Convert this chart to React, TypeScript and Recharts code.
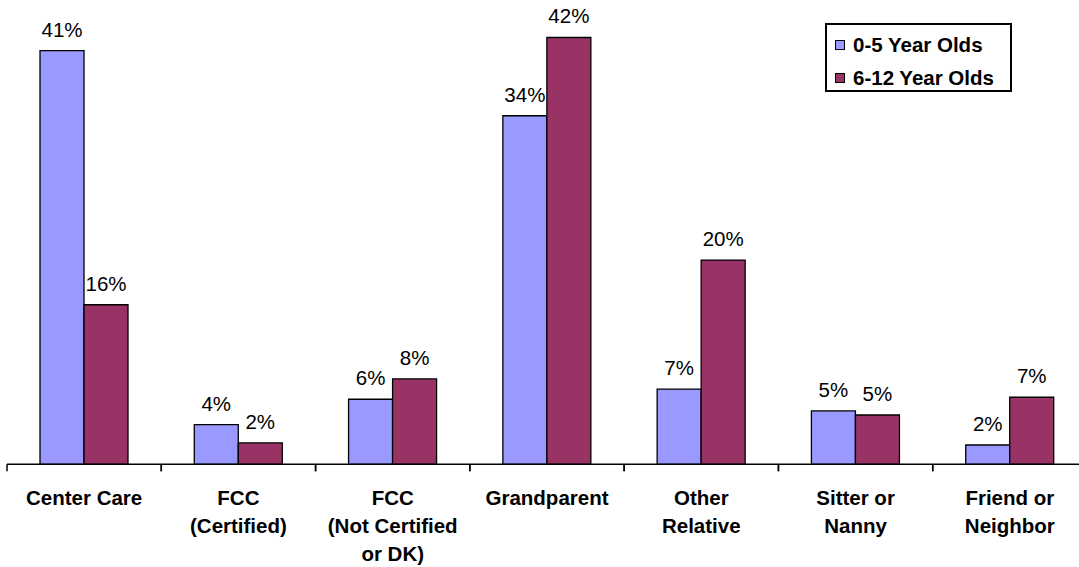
import React from "react";
import { BarChart, Bar, XAxis, YAxis, LabelList } from "recharts";

const categories = [
  "Center Care",
  "FCC (Certified)",
  "FCC (Not Certified or DK)",
  "Grandparent",
  "Other Relative",
  "Sitter or Nanny",
  "Friend or Neighbor",
];
const tickLines = [
  ["Center Care"],
  ["FCC", "(Certified)"],
  ["FCC", "(Not Certified", "or DK)"],
  ["Grandparent"],
  ["Other", "Relative"],
  ["Sitter or", "Nanny"],
  ["Friend or", "Neighbor"],
];
const ages0to5 = [40.7, 3.9, 6.4, 34.3, 7.4, 5.25, 1.9];
const ages6to12 = [15.7, 2.1, 8.4, 42.0, 20.1, 4.85, 6.6];
const seriesNames = ["0-5 Year Olds", "6-12 Year Olds"];
const colors = ["#9999FF", "#993366"];

const data = categories.map((c, i) => ({
  name: c,
  a: ages0to5[i],
  b: ages6to12[i],
}));

const FONT = "'Liberation Sans', Arial, Helvetica, sans-serif";

const CategoryTick = (props: any) => {
  const { x, y, payload, index } = props;
  const half = payload && payload.offset ? payload.offset : 77.15;
  const lines = tickLines[index] || [payload.value];
  return (
    <g>
      <line x1={x - half} x2={x - half} y1={y} y2={y + 7} stroke="#000" strokeWidth={1.5} />
      <line x1={x + half} x2={x + half} y1={y} y2={y + 7} stroke="#000" strokeWidth={1.5} />
      <text
        x={x}
        y={y + 41}
        textAnchor="middle"
        fontFamily={FONT}
        fontWeight="bold"
        fontSize={20.5}
        fill="#000"
      >
        {lines.map((l: string, i: number) => (
          <tspan key={i} x={x} dy={i === 0 ? 0 : 28}>
            {l}
          </tspan>
        ))}
      </text>
    </g>
  );
};

const LegendBox = () => (
  <div
    style={{
      position: "absolute",
      left: 825,
      top: 23,
      width: 183,
      height: 65,
      border: "2px solid #000",
      background: "#fff",
      fontFamily: FONT,
      fontWeight: "bold",
      fontSize: 20.5,
      color: "#000",
    }}
  >
    {seriesNames.map((n, i) => (
      <div
        key={n}
        style={{
          position: "absolute",
          left: 8,
          top: 8 + i * 33,
          height: 24,
          display: "flex",
          alignItems: "center",
          whiteSpace: "nowrap",
        }}
      >
        <span
          style={{
            display: "inline-block",
            width: 8,
            height: 8,
            background: colors[i],
            border: "1.5px solid #000",
            marginRight: 8,
          }}
        />
        <span>{n}</span>
      </div>
    ))}
  </div>
);

export default function App() {
  return (
    <div
      style={{
        position: "absolute",
        left: 0,
        top: 0,
        width: 1079,
        height: 567,
        overflow: "hidden",
        background: "#fff",
      }}
    >
      <BarChart
        width={1087}
        height={567}
        data={data}
        margin={{ top: 7, right: 0, left: 7, bottom: 0 }}
        barGap={0}
        barSize={44}
      >
        <XAxis
          dataKey="name"
          height={102.7}
          tickLine={false}
          tickSize={0}
          tickMargin={0}
          interval={0}
          axisLine={{ stroke: "#000", strokeWidth: 1.5 }}
          tick={<CategoryTick />}
        />
        <XAxis
          xAxisId="top"
          orientation="top"
          dataKey="name"
          height={0}
          tick={false}
          tickLine={false}
          axisLine={{ stroke: "#808080", strokeWidth: 2 }}
        />
        <YAxis
          domain={[0, 45]}
          width={0}
          tick={false}
          tickLine={false}
          axisLine={{ stroke: "#808080", strokeWidth: 2 }}
        />
        <Bar
          dataKey="a"
          name={seriesNames[0]}
          fill={colors[0]}
          stroke="#000"
          strokeWidth={1.3}
          isAnimationActive={false}
        >
          <LabelList
            dataKey="a"
            position="top"
            offset={14}
            fontFamily={FONT}
            fontSize={20.5}
            fill="#000"
            formatter={(v: any) => `${Math.round(Number(v))}%`}
          />
        </Bar>
        <Bar
          dataKey="b"
          name={seriesNames[1]}
          fill={colors[1]}
          stroke="#000"
          strokeWidth={1.3}
          isAnimationActive={false}
        >
          <LabelList
            dataKey="b"
            position="top"
            offset={14}
            fontFamily={FONT}
            fontSize={20.5}
            fill="#000"
            formatter={(v: any) => `${Math.round(Number(v))}%`}
          />
        </Bar>
      </BarChart>
      <LegendBox />
    </div>
  );
}
